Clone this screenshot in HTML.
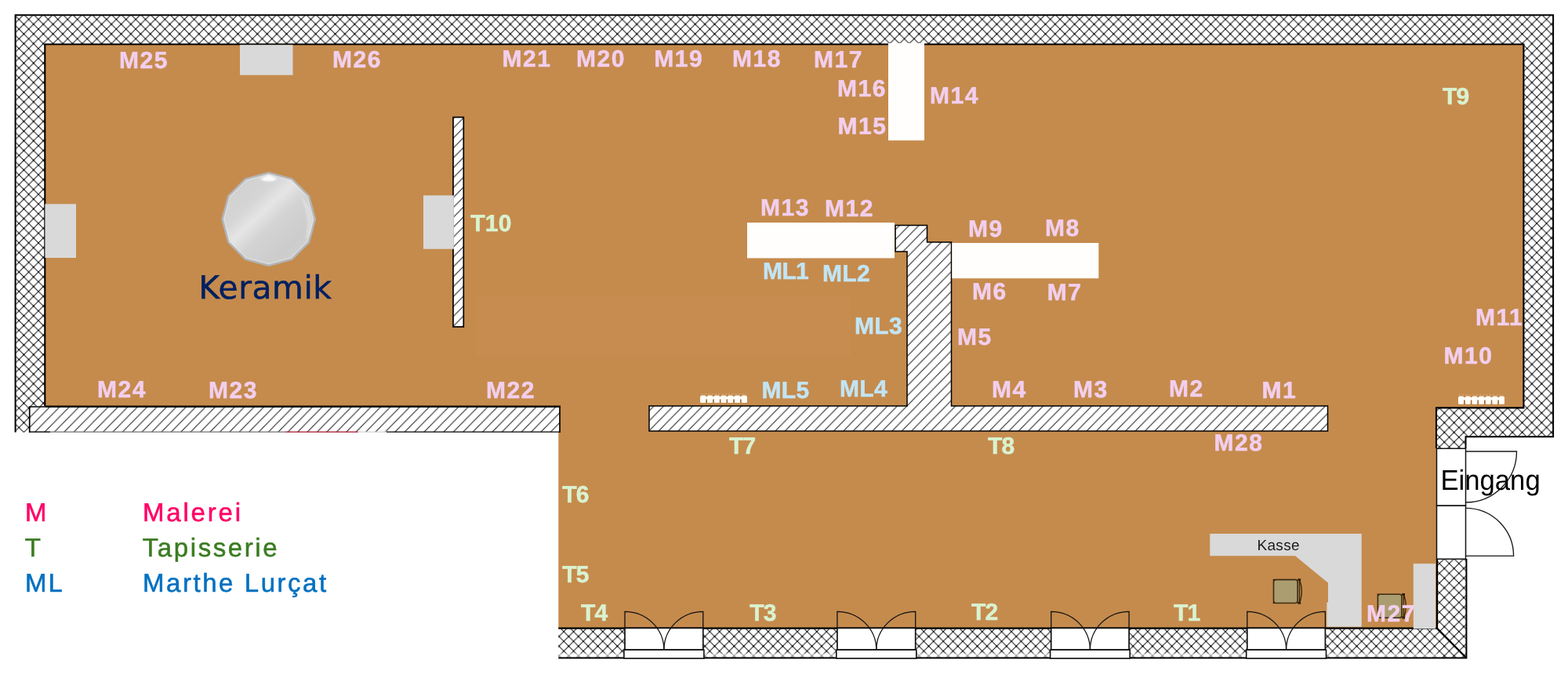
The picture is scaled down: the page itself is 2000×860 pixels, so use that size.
<!DOCTYPE html>
<html lang="de">
<head>
<meta charset="utf-8">
<title>Ausstellungsplan</title>
<style>
html,body{margin:0;padding:0;background:#fff;}
body{width:2000px;height:860px;overflow:hidden;font-family:"Liberation Sans",sans-serif;}
svg{display:block;will-change:transform;}
text{text-rendering:geometricPrecision;}
</style>
</head>
<body>
<svg width="2000" height="860" viewBox="0 0 2000 860">
<defs>
<pattern id="xh" patternUnits="userSpaceOnUse" width="12.41" height="12.4" x="24.2" y="24.7">
<rect width="12.41" height="12.4" fill="#fff"/>
<path d="M-1 -1 L13.41 13.4 M-1 13.4 L13.41 -1" stroke="#111" stroke-width="0.98" fill="none"/>
<circle cx="0" cy="0" r="1"/><circle cx="12.41" cy="0" r="1"/><circle cx="0" cy="12.4" r="1"/><circle cx="12.41" cy="12.4" r="1"/><circle cx="6.205" cy="6.2" r="1"/>
</pattern>
<pattern id="dh" patternUnits="userSpaceOnUse" width="12.41" height="12.64" x="0" y="2.53">
<rect width="12.41" height="12.64" fill="#fff"/>
<path d="M-0.982 13.640 L13.392 -1.000 M-0.982 1.000 L0.982 -1.000 M11.428 13.640 L13.392 11.640" stroke="#222" stroke-width="1.08" fill="none"/>
</pattern>
<pattern id="dh2" patternUnits="userSpaceOnUse" width="12.41" height="12.64" x="0" y="2.53">
<rect width="12.41" height="12.64" fill="#fff"/>
<path d="M-0.982 13.640 L13.392 -1.000 M-0.982 1.000 L0.982 -1.000 M11.428 13.640 L13.392 11.640" stroke="#222" stroke-width="1.08" fill="none"/>
</pattern>
<pattern id="dh3" patternUnits="userSpaceOnUse" width="12.41" height="12.64" x="0" y="6.76">
<rect width="12.41" height="12.64" fill="#fff"/>
<path d="M-0.982 13.640 L13.392 -1.000 M-0.982 1.000 L0.982 -1.000 M11.428 13.640 L13.392 11.640" stroke="#222" stroke-width="1.08" fill="none"/>
</pattern>
<linearGradient id="sil" x1="0.1" y1="0.1" x2="0.9" y2="0.95">
<stop offset="0" stop-color="#d0d0d0"/>
<stop offset="0.26" stop-color="#d5d5d5"/>
<stop offset="0.4" stop-color="#e5e5e5"/>
<stop offset="0.55" stop-color="#d3d3d3"/>
<stop offset="0.8" stop-color="#cccccc"/>
<stop offset="1" stop-color="#d2d2d2"/>
</linearGradient>
<filter id="soft" x="-20%" y="-20%" width="140%" height="140%"><feGaussianBlur stdDeviation="0.9"/></filter>
</defs>
<rect width="2000" height="860" fill="#fff"/>
<!-- outer wall crosshatch -->
<path d="M19 19 H1982 V557 H1869 V572.3 H1832 V520 H1944 V57 H58 V518 H37.5 V551.5 H19 Z" fill="url(#xh)"/>
<path d="M712.3 801.5 H1833 V713 H1870.4 V839.4 H712.3 Z" fill="url(#xh)"/>
<rect x="712.3" y="833.6" width="1121" height="4.8" fill="#fff" opacity="0.55"/>
<!-- floor -->
<path d="M58 57 H1944 V520 H1832 V801.5 H712.3 V518 H58 Z" fill="#C58B4D"/>
<rect x="608.1" y="378.2" width="476.3" height="75.4" fill="#C78D50"/>
<!-- outer wall outlines -->
<path d="M19.6 551.5 V19.2 H1981.1 V557.3 H1869.5 V572" fill="none" stroke="#000" stroke-width="2"/>
<path d="M57.3 518 V56.5 H1943.4 V520.4 H1832 V572" fill="none" stroke="#000" stroke-width="2.1"/>
<path d="M712.3 801.6 H1833 V713" fill="none" stroke="#000" stroke-width="2.3"/>
<path d="M712.3 839.4 H1870.4 V713" fill="none" stroke="#000" stroke-width="2"/>
<path d="M1833 801.5 L1870.4 839.4" fill="none" stroke="#000" stroke-width="2"/>
<!-- entrance door -->
<rect x="1832.5" y="572.3" width="37" height="73" fill="#fff" stroke="#111" stroke-width="1.5"/>
<rect x="1832.5" y="645.3" width="37" height="68" fill="#fff" stroke="#111" stroke-width="1.5"/>
<path d="M1869.5 576 H1934.5 A65 65 0 0 1 1869.5 641" fill="none" stroke="#1a1a1a" stroke-width="1.35"/>
<path d="M1869.5 709.3 H1930.6 A61.1 61 0 0 0 1869.5 648.3" fill="none" stroke="#1a1a1a" stroke-width="1.35"/>
<!-- internal walls -->
<path d="M37.7 518.6 H714 V551 H37.7 Z" fill="url(#dh)"/>
<path d="M37.7 551.8 V519 H714 V551.8" fill="none" stroke="#000" stroke-width="1.7"/>
<path d="M58 518.6 H714.8" stroke="#000" stroke-width="2.3"/>
<path d="M37 551.1 H64" stroke="#000" stroke-width="1.4"/>
<path d="M64 551.1 H363.4" stroke="#707070" stroke-width="1.3"/>
<path d="M363.4 551.1 H456.6" stroke="#A31526" stroke-width="1.4"/>
<path d="M456.6 551.1 H493" stroke="#c8c8c8" stroke-width="1"/>
<path d="M493 551.1 H714.8" stroke="#000" stroke-width="1.4"/>
<path d="M828 518 H1157 V321 H1142 V287.5 H1182.5 V309 H1213.5 V518 H1693.5 V550 H828 Z" fill="url(#dh2)" stroke="#000" stroke-width="1.5"/>
<rect x="578" y="149.6" width="13.3" height="267.4" fill="url(#dh3)" stroke="#000" stroke-width="1.7"/>
<!-- white blocks -->
<rect x="1133" y="55" width="46" height="124.2" fill="#fffefc"/>
<rect x="953" y="284" width="188" height="45.4" fill="#fffefc"/>
<rect x="1214.3" y="310" width="187" height="45.2" fill="#fffefc"/>
<!-- grey blocks -->
<rect x="306" y="57.3" width="67.5" height="38.5" fill="#D9D9D9"/>
<rect x="57.4" y="260.3" width="39.6" height="68.7" fill="#D9D9D9"/>
<rect x="540" y="249.3" width="38.9" height="68.4" fill="#D9D9D9"/>
<rect x="1802.8" y="719.2" width="28.2" height="83" fill="#D9D9D9"/>
<path d="M1543.3 681 H1736.7 V799.8 H1692.4 V768.6 H1694 V743.7 L1652 709.3 H1543.3 Z" fill="#D9D9D9"/>
<!-- ceramic -->
<polygon points="342.7,220.4 372.3,228.3 394.0,250.0 401.9,279.6 394.0,309.2 372.3,330.9 342.7,338.8 313.1,330.9 291.4,309.2 283.5,279.6 291.4,250.0 313.1,228.3" fill="url(#sil)" stroke="#b2b4b6" stroke-width="2.4" stroke-linejoin="round"/>
<polygon points="342.7,222.8 371.1,230.4 391.9,251.2 399.5,279.6 391.9,308.0 371.1,328.8 342.7,336.4 314.3,328.8 293.5,308.0 285.9,279.6 293.5,251.2 314.3,230.4" fill="none" stroke="#e8e8e8" stroke-width="1.1" stroke-linejoin="round" opacity="0.6"/>
<path d="M342.7 223 L331.5 228.2 L338.5 231.2 L347.5 231.2 L354 228.2 Z" fill="#fff" opacity="0.9" filter="url(#soft)"/>
<path d="M383 247 L395 266 L399 281 L396 298 L390 306 L392 282 L389 265 Z" fill="#fff" opacity="0.28" filter="url(#soft)"/>
<!-- chairs -->
<g>
<path d="M1657.5 739.8 Q1663.3 754.5 1657.5 769.3 Z" fill="#b58a4c" stroke="#33240e" stroke-width="1.3"/>
<rect x="1624.5" y="739.6" width="30.6" height="29.9" rx="3" ry="3" fill="#AB9D6F" stroke="#3b2c12" stroke-width="1.6"/>
<rect x="1655.3" y="738.3" width="3.8" height="3" fill="#2e200c"/>
<rect x="1655.3" y="767.8" width="3.8" height="3" fill="#2e200c"/>
<rect x="1623.7" y="738.9" width="2.2" height="2.2" fill="#33240e"/>
<rect x="1623.7" y="768.0" width="2.2" height="2.2" fill="#33240e"/>
</g>
<g>
<path d="M1790.4 758.5 Q1796.2 773.2 1790.4 788.0 Z" fill="#b58a4c" stroke="#33240e" stroke-width="1.3"/>
<rect x="1757.4" y="758.3" width="30.6" height="29.9" rx="3" ry="3" fill="#AB9D6F" stroke="#3b2c12" stroke-width="1.6"/>
<rect x="1788.2" y="757.0" width="3.8" height="3" fill="#2e200c"/>
<rect x="1788.2" y="786.5" width="3.8" height="3" fill="#2e200c"/>
<rect x="1756.6" y="757.6" width="2.2" height="2.2" fill="#33240e"/>
<rect x="1756.6" y="786.7" width="2.2" height="2.2" fill="#33240e"/>
</g>
<!-- radiators -->
<rect x="893.5" y="506.0" width="59.0" height="3.5" fill="#fffef8"/>
<path d="M894.5 502.9 H951.5" stroke="#f3dcc0" stroke-width="0.8" stroke-dasharray="2.2 2.1" opacity="0.55"/>
<rect x="893.30" y="504.5" width="7.11" height="9.30" rx="1.8" ry="1.8" fill="#fffef8"/>
<rect x="893.30" y="507.5" width="7.11" height="6.30" fill="#fffef8"/>
<rect x="902.01" y="504.5" width="7.11" height="9.30" rx="1.8" ry="1.8" fill="#fffef8"/>
<rect x="902.01" y="507.5" width="7.11" height="6.30" fill="#fffef8"/>
<rect x="900.51" y="509.7" width="1.4" height="4.10" fill="#9a6a35"/>
<rect x="910.73" y="504.5" width="7.11" height="9.30" rx="1.8" ry="1.8" fill="#fffef8"/>
<rect x="910.73" y="507.5" width="7.11" height="6.30" fill="#fffef8"/>
<rect x="909.23" y="509.7" width="1.4" height="4.10" fill="#9a6a35"/>
<rect x="919.44" y="504.5" width="7.11" height="9.30" rx="1.8" ry="1.8" fill="#fffef8"/>
<rect x="919.44" y="507.5" width="7.11" height="6.30" fill="#fffef8"/>
<rect x="917.94" y="509.7" width="1.4" height="4.10" fill="#9a6a35"/>
<rect x="928.16" y="504.5" width="7.11" height="9.30" rx="1.8" ry="1.8" fill="#fffef8"/>
<rect x="928.16" y="507.5" width="7.11" height="6.30" fill="#fffef8"/>
<rect x="926.66" y="509.7" width="1.4" height="4.10" fill="#9a6a35"/>
<rect x="936.87" y="504.5" width="7.11" height="9.30" rx="1.8" ry="1.8" fill="#fffef8"/>
<rect x="936.87" y="507.5" width="7.11" height="6.30" fill="#fffef8"/>
<rect x="935.37" y="509.7" width="1.4" height="4.10" fill="#9a6a35"/>
<rect x="945.59" y="504.5" width="7.11" height="9.30" rx="1.8" ry="1.8" fill="#fffef8"/>
<rect x="945.59" y="507.5" width="7.11" height="6.30" fill="#fffef8"/>
<rect x="944.09" y="509.7" width="1.4" height="4.10" fill="#9a6a35"/>
<rect x="1860.3" y="507.0" width="58.5" height="3.5" fill="#fffef8"/>
<path d="M1861.3 503.9 H1917.8" stroke="#f3dcc0" stroke-width="0.8" stroke-dasharray="2.2 2.1" opacity="0.55"/>
<rect x="1860.10" y="505.5" width="7.04" height="10.00" rx="1.8" ry="1.8" fill="#fffef8"/>
<rect x="1860.10" y="508.5" width="7.04" height="7.00" fill="#fffef8"/>
<rect x="1868.74" y="505.5" width="7.04" height="10.00" rx="1.8" ry="1.8" fill="#fffef8"/>
<rect x="1868.74" y="508.5" width="7.04" height="7.00" fill="#fffef8"/>
<rect x="1867.24" y="510.7" width="1.4" height="4.80" fill="#9a6a35"/>
<rect x="1877.39" y="505.5" width="7.04" height="10.00" rx="1.8" ry="1.8" fill="#fffef8"/>
<rect x="1877.39" y="508.5" width="7.04" height="7.00" fill="#fffef8"/>
<rect x="1875.89" y="510.7" width="1.4" height="4.80" fill="#9a6a35"/>
<rect x="1886.03" y="505.5" width="7.04" height="10.00" rx="1.8" ry="1.8" fill="#fffef8"/>
<rect x="1886.03" y="508.5" width="7.04" height="7.00" fill="#fffef8"/>
<rect x="1884.53" y="510.7" width="1.4" height="4.80" fill="#9a6a35"/>
<rect x="1894.67" y="505.5" width="7.04" height="10.00" rx="1.8" ry="1.8" fill="#fffef8"/>
<rect x="1894.67" y="508.5" width="7.04" height="7.00" fill="#fffef8"/>
<rect x="1893.17" y="510.7" width="1.4" height="4.80" fill="#9a6a35"/>
<rect x="1903.31" y="505.5" width="7.04" height="10.00" rx="1.8" ry="1.8" fill="#fffef8"/>
<rect x="1903.31" y="508.5" width="7.04" height="7.00" fill="#fffef8"/>
<rect x="1901.81" y="510.7" width="1.4" height="4.80" fill="#9a6a35"/>
<rect x="1911.96" y="505.5" width="7.04" height="10.00" rx="1.8" ry="1.8" fill="#fffef8"/>
<rect x="1911.96" y="508.5" width="7.04" height="7.00" fill="#fffef8"/>
<rect x="1910.46" y="510.7" width="1.4" height="4.80" fill="#9a6a35"/>
<!-- doors -->

<rect x="797" y="801.4" width="99.8" height="27.8" fill="#fff" stroke="#111" stroke-width="1.7"/>
<rect x="795.9" y="829.2" width="102.0" height="10.9" fill="#fff" stroke="#111" stroke-width="1.6"/>
<path d="M797 801.4 V780.3 A49.90 48.90 0 0 1 846.90 829.2" fill="none" stroke="#111" stroke-width="1.3"/>
<path d="M896.8 801.4 V780.3 A49.90 48.90 0 0 0 846.90 829.2" fill="none" stroke="#111" stroke-width="1.3"/>
<rect x="1067.9" y="801.4" width="99.8" height="27.8" fill="#fff" stroke="#111" stroke-width="1.7"/>
<rect x="1066.8" y="829.2" width="102.0" height="10.9" fill="#fff" stroke="#111" stroke-width="1.6"/>
<path d="M1067.9 801.4 V780.3 A49.90 48.90 0 0 1 1117.80 829.2" fill="none" stroke="#111" stroke-width="1.3"/>
<path d="M1167.7 801.4 V780.3 A49.90 48.90 0 0 0 1117.80 829.2" fill="none" stroke="#111" stroke-width="1.3"/>
<rect x="1340.7" y="801.4" width="99.4" height="27.8" fill="#fff" stroke="#111" stroke-width="1.7"/>
<rect x="1339.6" y="829.2" width="101.6" height="10.9" fill="#fff" stroke="#111" stroke-width="1.6"/>
<path d="M1340.7 801.4 V780.3 A49.70 48.90 0 0 1 1390.40 829.2" fill="none" stroke="#111" stroke-width="1.3"/>
<path d="M1440.1 801.4 V780.3 A49.70 48.90 0 0 0 1390.40 829.2" fill="none" stroke="#111" stroke-width="1.3"/>
<rect x="1590.8" y="801.4" width="99.6" height="27.8" fill="#fff" stroke="#111" stroke-width="1.7"/>
<rect x="1589.7" y="829.2" width="101.8" height="10.9" fill="#fff" stroke="#111" stroke-width="1.6"/>
<path d="M1590.8 801.4 V780.3 A49.80 48.90 0 0 1 1640.60 829.2" fill="none" stroke="#111" stroke-width="1.3"/>
<path d="M1690.4 801.4 V780.3 A49.80 48.90 0 0 0 1640.60 829.2" fill="none" stroke="#111" stroke-width="1.3"/>
<!-- labels -->
<g font-family="'Liberation Sans', sans-serif" font-weight="700" font-size="30" letter-spacing="1.5" stroke-width="0.5" stroke-linejoin="round">
<text x="152" y="87" fill="#F2CFEE" stroke="#F2CFEE">M25</text>
<text x="424" y="86" fill="#F2CFEE" stroke="#F2CFEE">M26</text>
<text x="640.5" y="84.6" fill="#F2CFEE" stroke="#F2CFEE">M21</text>
<text x="735" y="84.6" fill="#F2CFEE" stroke="#F2CFEE">M20</text>
<text x="834.3" y="84.6" fill="#F2CFEE" stroke="#F2CFEE">M19</text>
<text x="934" y="84.6" fill="#F2CFEE" stroke="#F2CFEE">M18</text>
<text x="1038" y="85.9" fill="#F2CFEE" stroke="#F2CFEE">M17</text>
<text x="1068.1" y="123.4" fill="#F2CFEE" stroke="#F2CFEE">M16</text>
<text x="1068.5" y="170.6" fill="#F2CFEE" stroke="#F2CFEE">M15</text>
<text x="1186.1" y="131.6" fill="#F2CFEE" stroke="#F2CFEE">M14</text>
<text x="1840" y="133" fill="#D9F2D0" stroke="#D9F2D0" letter-spacing="-0.8">T9</text>
<text x="600.2" y="295.3" fill="#D9F2D0" stroke="#D9F2D0" letter-spacing="0.3">T10</text>
<text x="970" y="275" fill="#F2CFEE" stroke="#F2CFEE">M13</text>
<text x="1052" y="276.2" fill="#F2CFEE" stroke="#F2CFEE">M12</text>
<text x="1235" y="301.5" fill="#F2CFEE" stroke="#F2CFEE">M9</text>
<text x="1333" y="301" fill="#F2CFEE" stroke="#F2CFEE">M8</text>
<text x="973" y="355.5" fill="#C1E5F5" stroke="#C1E5F5" letter-spacing="-0.6">ML1</text>
<text x="1049" y="359.2" fill="#C1E5F5" stroke="#C1E5F5" letter-spacing="0.3">ML2</text>
<text x="1240" y="382" fill="#F2CFEE" stroke="#F2CFEE">M6</text>
<text x="1335.7" y="382.7" fill="#F2CFEE" stroke="#F2CFEE">M7</text>
<text x="1090" y="426.2" fill="#C1E5F5" stroke="#C1E5F5" letter-spacing="0.3">ML3</text>
<text x="1221" y="439.5" fill="#F2CFEE" stroke="#F2CFEE">M5</text>
<text x="1882" y="415" fill="#F2CFEE" stroke="#F2CFEE">M11</text>
<text x="1841.5" y="463.7" fill="#F2CFEE" stroke="#F2CFEE">M10</text>
<text x="124" y="507" fill="#F2CFEE" stroke="#F2CFEE">M24</text>
<text x="266" y="508" fill="#F2CFEE" stroke="#F2CFEE">M23</text>
<text x="620" y="508" fill="#F2CFEE" stroke="#F2CFEE">M22</text>
<text x="971.5" y="508" fill="#C1E5F5" stroke="#C1E5F5" letter-spacing="0.3">ML5</text>
<text x="1071" y="506" fill="#C1E5F5" stroke="#C1E5F5" letter-spacing="0.3">ML4</text>
<text x="1265" y="506.5" fill="#F2CFEE" stroke="#F2CFEE">M4</text>
<text x="1369" y="506.7" fill="#F2CFEE" stroke="#F2CFEE">M3</text>
<text x="1491" y="506.3" fill="#F2CFEE" stroke="#F2CFEE">M2</text>
<text x="1609.5" y="508" fill="#F2CFEE" stroke="#F2CFEE">M1</text>
<text x="930" y="579" fill="#D9F2D0" stroke="#D9F2D0" letter-spacing="-0.8">T7</text>
<text x="1260" y="579" fill="#D9F2D0" stroke="#D9F2D0" letter-spacing="-0.8">T8</text>
<text x="1548.5" y="575" fill="#F2CFEE" stroke="#F2CFEE">M28</text>
<text x="717.3" y="641" fill="#D9F2D0" stroke="#D9F2D0" letter-spacing="-0.8">T6</text>
<text x="717.3" y="743" fill="#D9F2D0" stroke="#D9F2D0" letter-spacing="-0.8">T5</text>
<text x="741.1" y="792" fill="#D9F2D0" stroke="#D9F2D0" letter-spacing="-0.8">T4</text>
<text x="956.3" y="792" fill="#D9F2D0" stroke="#D9F2D0" letter-spacing="-0.8">T3</text>
<text x="1239" y="791.4" fill="#D9F2D0" stroke="#D9F2D0" letter-spacing="-0.8">T2</text>
<text x="1497" y="791.5" fill="#D9F2D0" stroke="#D9F2D0" letter-spacing="-0.8">T1</text>
<text x="1743" y="793" fill="#F2CFEE" stroke="#F2CFEE">M27</text>
</g>
<text x="253.3" y="381" font-family="'DejaVu Sans', 'Liberation Sans', sans-serif" font-size="40.8" fill="#002060" stroke="#002060" stroke-width="0.5" letter-spacing="0.55">Keramik</text>
<text x="1837.4" y="624.5" font-family="'Liberation Sans', sans-serif" font-size="36.3" fill="#000" textLength="127.3" lengthAdjust="spacingAndGlyphs">Eingang</text>
<text x="1603.5" y="702" font-family="'Liberation Sans', sans-serif" font-size="19" fill="#1a1a1a" letter-spacing="0.3">Kasse</text>
<g font-family="'Liberation Sans', sans-serif" font-size="33" letter-spacing="2.6" stroke-width="0.55" stroke-linejoin="round">
<text x="32.1" y="665.2" fill="#FF0066" stroke="#FF0066">M</text>
<text x="182" y="665.2" fill="#FF0066" stroke="#FF0066" letter-spacing="2.8">Malerei</text>
<text x="31.8" y="710" fill="#3A7C22" stroke="#3A7C22">T</text>
<text x="181.7" y="710" fill="#3A7C22" stroke="#3A7C22">Tapisserie</text>
<text x="32.1" y="755" fill="#0070C0" stroke="#0070C0" letter-spacing="2">ML</text>
<text x="182" y="755" fill="#0070C0" stroke="#0070C0" letter-spacing="2.55">Marthe Lurçat</text>
</g>
</svg>
</body>
</html>
